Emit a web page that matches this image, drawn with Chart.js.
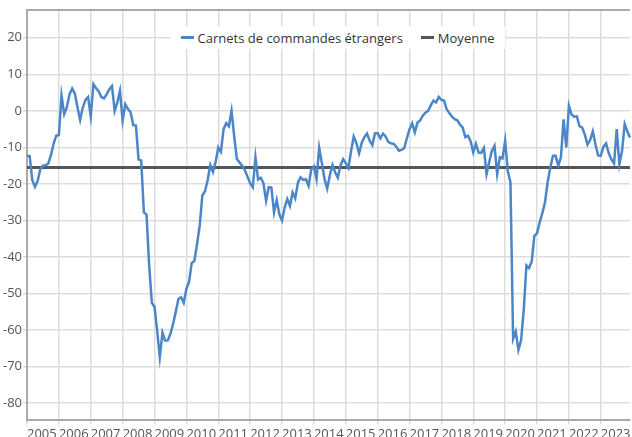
<!DOCTYPE html>
<html>
<head>
<meta charset="utf-8">
<script src="https://cdn.jsdelivr.net/npm/chart.js@4"></script>
<style>
  html, body { margin:0; padding:0; background:#fff; overflow:hidden; }
  #wrap { position:relative; width:632px; height:444px; }
  #legend { position:absolute; left:170px; top:26px; width:335px; height:23px; background:#fff;
    display:flex; align-items:center; justify-content:center; gap:18px;
    font-family:"Open Sans", sans-serif; font-size:13px; color:#333; }
  #legend .item { display:flex; align-items:center; white-space:nowrap; }
  #legend .mark { display:inline-block; width:13px; height:3px; margin-right:4px; }
</style>
</head>
<body>
<div id="wrap">
  <canvas id="chart" width="632" height="444"></canvas>
  <div id="legend"></div>
</div>
<script>
// monthly values, Jan..Dec
const annees = [2005,2006,2007,2008,2009,2010,2011,2012,2013,2014,2015,2016,2017,2018,2019,2020,2021,2022,2023];
const y2005 = [-12.3, -12.4, -19, -20.8, -19.2, -16, -15, -14.9, -14.4, -12.2, -9, -6.8];
const y2006 = [-6.6, 4.2, -0.9, 1.0, 4.5, 6.1, 4.8, 1.0, -2.5, 0.9, 3.0, 3.8];
const y2007 = [-1.5, 7.3, 6.2, 5.3, 3.8, 3.4, 4.6, 5.9, 6.8, 0, 2.3, 5.5];
const y2008 = [-2.7, 1.8, 0.5, -0.4, -3.9, -4.0, -13.3, -13.6, -27.8, -28.4, -42.4, -52.5];
const y2009 = [-53.6, -60.2, -67.4, -60.7, -62.9, -62.8, -61.0, -58.3, -55.0, -51.5, -51.0, -52.5];
const y2010 = [-48.7, -46.8, -41.6, -41.1, -36.5, -31.5, -23.2, -22, -19, -14.8, -16.7, -14];
const y2011 = [-10, -11.2, -5, -3.4, -4.2, 0, -7, -13.2, -14.1, -15, -16.2, -18];
const y2012 = [-19.8, -20.9, -12.7, -18.8, -18.3, -19.8, -24.6, -20.9, -21, -27.8, -24.4, -28.3];
const y2013 = [-30, -26.4, -24.1, -26, -22.3, -23.9, -19.6, -18.2, -18.9, -18.7, -20.5, -16];
const y2014 = [-15.2, -18.7, -10.1, -14.3, -18.7, -21.3, -17.6, -14.8, -16.8, -18.3, -15, -13.2];
const y2015 = [-14.3, -15.6, -11, -7, -8.8, -11.6, -8.8, -7.2, -6.2, -8.2, -9.4, -6.1];
const y2016 = [-6.1, -7.5, -6.2, -7, -8.5, -8.9, -9.0, -9.8, -10.9, -10.7, -10.2, -7.5];
const y2017 = [-5.0, -3.4, -5.9, -3.2, -2.6, -1.3, -0.5, 0, 1.5, 2.8, 2.3, 3.8];
const y2018 = [3.0, 2.8, 0.4, -0.6, -1.6, -2.3, -2.6, -3.8, -4.5, -7.2, -6.8, -8.3];
const y2019 = [-11.4, -9.0, -11.4, -11.5, -10.2, -17.3, -14, -11, -9.6, -17.3, -12.7, -13];
const y2020 = [-8.2, -16.5, -19.6, -62.4, -60.4, -65.4, -62.8, -54.5, -42.3, -43, -41.2, -34.2];
const y2021 = [-33.5, -30.5, -28, -25, -19.5, -15.5, -12.3, -12.3, -15, -12.7, -2.3, -10];
const y2022 = [1.4, -1, -1.6, -1.5, -4.2, -4.6, -6.5, -9.2, -8, -5.6, -9.2, -12.2];
const y2023 = [-12.3, -9.8, -8.9, -11.6, -13.3, -14.4, -5, -14.6, -11, -3.6, -5.6, -7.3];
const moyenne = -15.5;

const parAnnee = [y2005,y2006,y2007,y2008,y2009,y2010,y2011,y2012,y2013,y2014,y2015,y2016,y2017,y2018,y2019,y2020,y2021,y2022,y2023];
const labels = [];
const carnets = [];
annees.forEach((a, k) => {
  parAnnee[k].forEach((v, m) => { labels.push(a + '-' + String(m + 1).padStart(2, '0')); carnets.push(v); });
});

const FONT = { family: '"Open Sans", sans-serif', size: 13 };

// top frame line
const frame = {
  id: 'frame',
  beforeDatasetsDraw(chart) {
    const { ctx, chartArea: a } = chart;
    ctx.save();
    ctx.strokeStyle = '#aaa'; ctx.lineWidth = 2;
    ctx.beginPath(); ctx.moveTo(a.left, a.top); ctx.lineTo(a.right, a.top); ctx.stroke();
    ctx.restore();
  }
};

const chart = new Chart(document.getElementById('chart'), {
  type: 'line',
  data: {
    labels: labels,
    datasets: [
      { label: 'Carnets de commandes étrangers', data: carnets, borderColor: '#4a86c8', borderWidth: 2.5, pointRadius: 0, tension: 0 },
      { label: 'Moyenne', data: labels.map(() => moyenne), borderColor: '#555', borderWidth: 3, pointRadius: 0 }
    ]
  },
  options: {
    animation: false, responsive: false,
    layout: { padding: { top: 10, left: 0, right: 0, bottom: 0 } },
    plugins: { legend: { display: false }, tooltip: { enabled: false } },
    scales: {
      x: {
        offset: false,
        grid: { color: c => (c.index % 12 === 0 ? '#ddd' : 'rgba(0,0,0,0)'), lineWidth: 1.5, tickLength: 4 },
        border: { color: '#aaa', width: 2 },
        ticks: { autoSkip: false, maxRotation: 0, minRotation: 0, align: 'start', padding: 2, color: '#555', font: FONT,
          callback: (v, i) => (i % 12 === 0 ? labels[i].slice(0, 4) : '') }
      },
      y: {
        min: -84.7, max: 27.6,
        afterFit: s => { s.width = 27; },
        grid: { color: '#ddd', lineWidth: 1.5, tickLength: 4 },
        border: { color: '#aaa', width: 2 },
        ticks: { stepSize: 10, includeBounds: false, padding: 1, color: '#555', font: FONT }
      }
    }
  },
  plugins: [frame]
});

// legend over the plot, built from the datasets
const leg = document.getElementById('legend');
chart.data.datasets.forEach(ds => {
  const it = document.createElement('span');
  it.className = 'item';
  it.innerHTML = `<span class="mark" style="background:${ds.borderColor}"></span>${ds.label}`;
  leg.appendChild(it);
});
</script>
</body>
</html>
